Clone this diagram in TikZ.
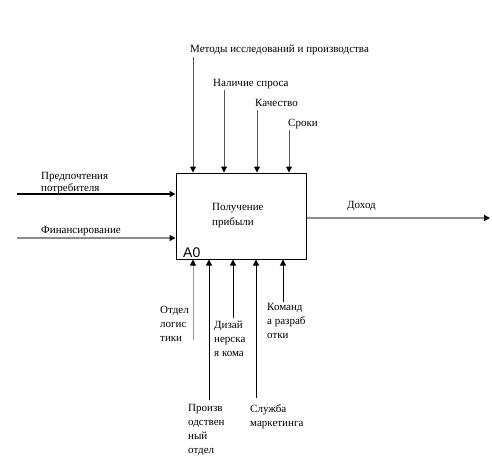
\documentclass[tikz,border=0pt]{standalone}
\usepackage{fontspec}
\setmainfont{Liberation Serif}
\newfontfamily\sansA{Liberation Sans}
\usetikzlibrary{arrows.meta}
\begin{document}
\begin{tikzpicture}[x=1pt,y=-1pt,
  lbl/.style={anchor=base west, inner sep=0pt, font=\fontsize{11}{14}\selectfont, align=left},
  arr/.style={-{Triangle[length=6pt,width=6pt,color=black]}, line width=1pt},
  topline/.style={arr, draw=black!65},
  ctrlline/.style={arr, draw=black},
  lightline/.style={arr, draw=black!40},
  thickin/.style={arr, draw=black, line width=2.2pt},
  grayin/.style={arr, draw=black!45, line width=1.8pt},
  funcbox/.style={draw, line width=1pt, minimum width=130pt, minimum height=86pt, inner sep=0pt}]
\useasboundingbox (0,0) rectangle (492,458);
\node[funcbox] (box) at (241,216) {};
\node[lbl, font=\fontsize{11}{15}\selectfont] (fn) at (212,225) {Получение\\прибыли};
\node[anchor=base west, inner sep=0pt, font=\sansA\fontsize{14}{14}\selectfont] (a0) at (183,257) {A0};
% top controls
\coordinate (t1) at (193,57);
\coordinate (t2) at (224,90);
\coordinate (t3) at (257,110);
\coordinate (t4) at (289,130);
\draw[topline] (t1) -- (t1 |- box.north);
\draw[topline] (t2) -- (t2 |- box.north);
\draw[topline] (t3) -- (t3 |- box.north);
\draw[topline] (t4) -- (t4 |- box.north);
\node[lbl] (lt1) at (190,52) {Методы исследований и производства};
\node[lbl] (lt2) at (213,86) {Наличие спроса};
\node[lbl] (lt3) at (255,106) {Качество};
\node[lbl] (lt4) at (288,126) {Сроки};
% inputs
\coordinate (l1) at (17,194);
\coordinate (l2) at (17,238);
\draw[thickin] (l1) -- (l1 -| box.west);
\draw[grayin] (l2) -- (l2 -| box.west);
\node[lbl, font=\fontsize{11}{12}\selectfont] (ll1) at (41,191) {Предпочтения\\потребителя};
\node[lbl] (ll2) at (41,233) {Финансирование};
% output
\coordinate (o1) at (490,218);
\draw[grayin] (box.east |- o1) -- (o1);
\node[lbl] (lo1) at (347,208) {Доход};
% mechanisms
\coordinate (b1) at (193,340);
\coordinate (b2) at (209,400);
\coordinate (b3) at (233,318);
\coordinate (b4) at (256,398);
\coordinate (b5) at (283,302);
\draw[lightline] (b1) -- (b1 |- box.south);
\draw[ctrlline] (b2) -- (b2 |- box.south);
\draw[ctrlline] (b3) -- (b3 |- box.south);
\draw[ctrlline] (b4) -- (b4 |- box.south);
\draw[ctrlline] (b5) -- (b5 |- box.south);
\node[lbl] (lb1) at (160,341) {Отдел\\логис\\тики};
\node[lbl] (lb3) at (214,356) {Дизай\\нерска\\я кома};
\node[lbl] (lb5) at (267,338) {Команд\\а разраб\\отки};
\node[lbl] (lb2) at (188,453) {Произв\\одствен\\ный\\отдел};
\node[lbl] (lb4) at (250,426) {Служба\\маркетинга};
\end{tikzpicture}
\end{document}
